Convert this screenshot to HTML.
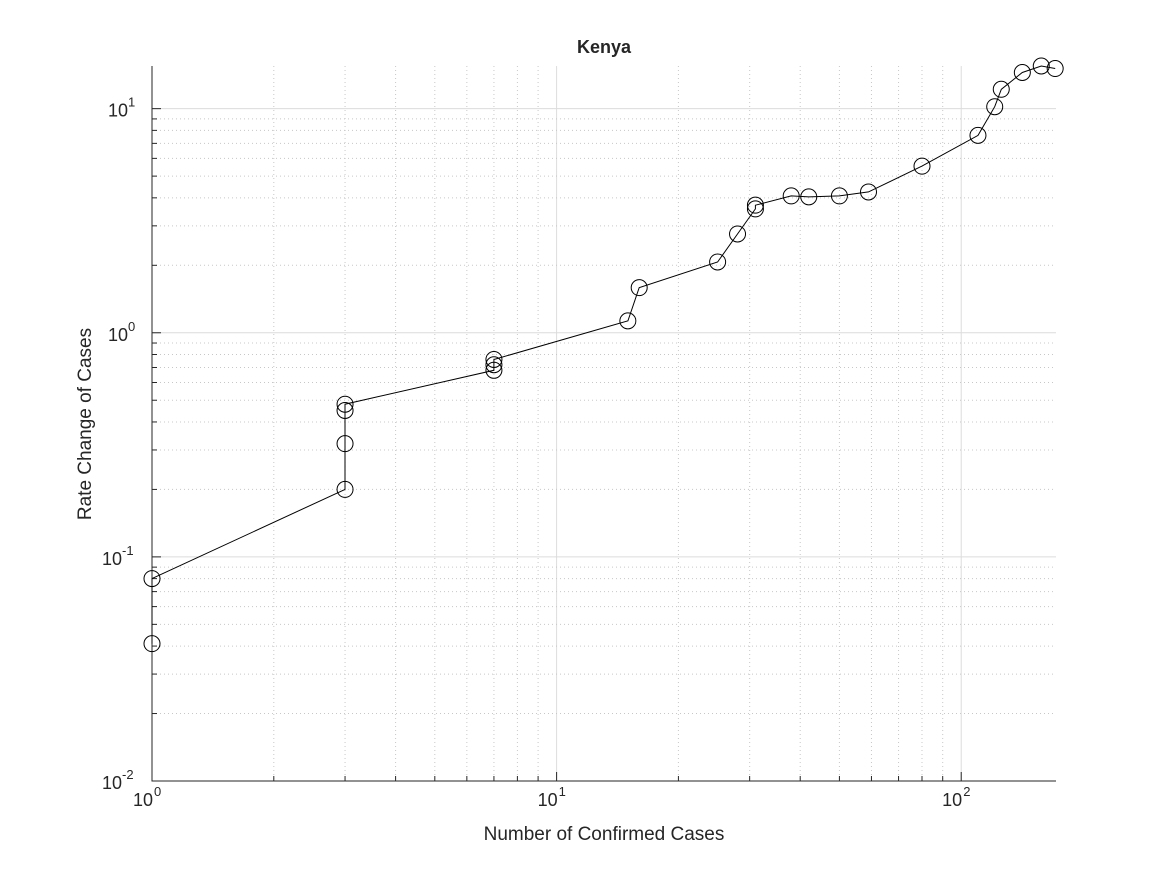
<!DOCTYPE html>
<html><head><meta charset="utf-8"><style>
body{margin:0;background:#fff;font-family:"Liberation Sans",sans-serif;}
svg text{font-family:"Liberation Sans",sans-serif;fill:#262626;}
</style></head><body>
<svg id="chart" width="1167" height="875" xmlns="http://www.w3.org/2000/svg">
<rect width="1167" height="875" fill="#fff"/>
<g id="grid"></g>
<g id="axes"></g>
<g id="series"></g>
<text x="604" y="53" text-anchor="middle" font-size="18" font-weight="bold" fill="#000">Kenya</text>
<text x="604" y="840" text-anchor="middle" font-size="19">Number of Confirmed Cases</text>
<text x="91" y="424" text-anchor="middle" font-size="19" transform="rotate(-90 91 424)">Rate Change of Cases</text>
</svg>
<script>
const xValues=[1,1,3,3,3,3,7,7,7,15,16,25,28,31,31,38,42,50,59,80,110,121,125.6,141.6,157.7,170.7];
const yValues=[0.041,0.08,0.2,0.32,0.45,0.48,0.68,0.72,0.76,1.13,1.59,2.07,2.76,3.57,3.71,4.08,4.04,4.08,4.25,5.54,7.6,10.2,12.2,14.5,15.5,15.1];
const xTickExp=[0,1,2];
const yTickExp=[-2,-1,0,1];
const L=152,R=1056,T=66,B=781;
const xmin=0,xmax=Math.log10(171.5),ymin=-2,ymax=Math.log10(15.5);
const X=v=>L+(Math.log10(v)-xmin)/(xmax-xmin)*(R-L);
const Y=v=>B-(Math.log10(v)-ymin)/(ymax-ymin)*(B-T);
const NS='http://www.w3.org/2000/svg';
function mk(t,a,p){const e=document.createElementNS(NS,t);for(const k in a)e.setAttribute(k,a[k]);p.appendChild(e);return e;}
const grid=document.getElementById('grid'),axes=document.getElementById('axes'),series=document.getElementById('series');
for(let d=0;d<=2;d++)for(let m=1;m<=9;m++){const v=m*Math.pow(10,d);if(v>171.5)break;const x=X(v);
 const g=mk('line',{x1:x,x2:x,y1:T,y2:B,stroke:m==1?'#dcdcdc':'#c8c8c8','stroke-width':1,'stroke-dasharray':m==1?'':'1,3'},grid);
 
 
 const tk=mk('line',{x1:x,x2:x,y1:B,y2:B-(m==1?9:5),stroke:'#262626'},axes);
 
 }
for(let d=-2;d<=1;d++)for(let m=1;m<=9;m++){const v=m*Math.pow(10,d);if(v>15.5)break;const y=Y(v);
 const g=mk('line',{x1:L,x2:R,y1:y,y2:y,stroke:m==1?'#dcdcdc':'#c8c8c8','stroke-width':1,'stroke-dasharray':m==1?'':'1,3'},grid);
 
 
 const tk=mk('line',{x1:L,x2:L+(m==1?9:5),y1:y,y2:y,stroke:'#262626'},axes);
 
 }
const ax=mk('path',{d:`M${L},${T}V${B}H${R}`,stroke:'#262626',fill:'none','stroke-width':1},axes);


xTickExp.forEach(e=>{const x=X(Math.pow(10,e));
 const t=mk('text',{x:x+1,y:B+25,'text-anchor':'end','font-size':18},axes);t.textContent='10';
 
 
 const s=mk('text',{x:x+2,y:B+15,'font-size':13},axes);s.textContent=e;
 
 });
yTickExp.forEach(e=>{const y=Y(Math.pow(10,e));
 const t=mk('text',{x:e<0?L-30:L-24,y:y+8,'text-anchor':'end','font-size':18},axes);t.textContent='10';
 
 
 const s=mk('text',{x:e<0?L-30:L-24,y:y-2,'font-size':13},axes);s.textContent=e;
 
 });
const pts=xValues.map((v,i)=>X(v).toFixed(1)+','+Y(yValues[i]).toFixed(1)).join(' ');
const pl=mk('polyline',{points:pts,fill:'none',stroke:'#000','stroke-width':1},series);


xValues.forEach((v,i)=>{const c=mk('circle',{cx:X(v),cy:Y(yValues[i]),r:8,fill:'none',stroke:'#000','stroke-width':1},series);
 
 });
</script>
</body></html>
